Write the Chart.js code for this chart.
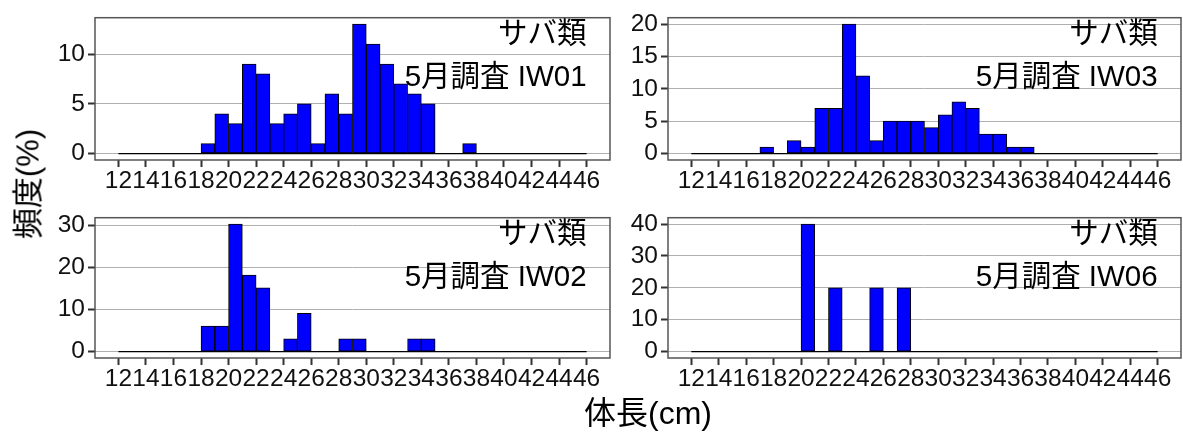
<!DOCTYPE html>
<html>
<head>
<meta charset="utf-8">
<script src="https://cdn.jsdelivr.net/npm/chart.js@4.4.1/dist/chart.umd.min.js"></script>
<style>
body { margin: 0; background: #fff; }
#wrap { position: relative; width: 1183px; height: 432px; font-family: "Liberation Sans", Arial, "Noto Sans CJK JP", sans-serif; }
canvas { position: absolute; }
.ttl { position: absolute; font-size: 31px; color: #000; white-space: nowrap; line-height: 1; }
#ytitle { left: 28px; top: 184px; transform: translate(-50%, -50%) rotate(-90deg); }
#xtitle { left: 648px; top: 413px; transform: translate(-50%, -50%); font-size: 32px; }
</style>
</head>
<body>
<div id="wrap">
  <canvas id="c1" width="612" height="200" style="left:0px;top:0px"></canvas>
  <canvas id="c2" width="571" height="200" style="left:612px;top:0px"></canvas>
  <canvas id="c3" width="612" height="200" style="left:0px;top:200px"></canvas>
  <canvas id="c4" width="571" height="200" style="left:612px;top:200px"></canvas>
  <div class="ttl" id="ytitle">頻度(%)</div>
  <div class="ttl" id="xtitle">体長(cm)</div>
</div>
<script>
// bin start (cm), each bin 1 cm wide
const bins = [12,13,14,15,16,17,18,19,20,21,22,23,24,25,26,27,28,29,30,31,32,33,34,35,36,37,38,39,40,41,42,43,44,45];
const xTicks = [12,14,16,18,20,22,24,26,28,30,32,34,36,38,40,42,44,46];

//               12 13 14 15 16 17 18 19 20 21 22 23 24 25 26 27 28 29 30 31 32 33 34 35 36 37 38 39 40 41 42 43 44 45
const iw01 =    [0, 0, 0, 0, 0, 0, 1, 4, 3, 9, 8, 3, 4, 5, 1, 6, 4, 13,11,9, 7, 6, 5, 0, 0, 1, 0, 0, 0, 0, 0, 0, 0, 0];
const iw03 =    [0, 0, 0, 0, 0, 1, 0, 2, 1, 7, 7, 20,12,2, 5, 5, 5, 4, 6, 8, 7, 3, 3, 1, 1, 0, 0, 0, 0, 0, 0, 0, 0, 0];
const iw02 =    [0, 0, 0, 0, 0, 0, 6.06, 6.06, 30.3, 18.18, 15.15, 0, 3.03, 9.09, 0, 0, 3.03, 3.03, 0, 0, 0, 3.03, 3.03, 0, 0, 0, 0, 0, 0, 0, 0, 0, 0, 0];
const iw06 =    [0, 0, 0, 0, 0, 0, 0, 0, 40,0, 20,0, 0, 20,0, 20,0, 0, 0, 0, 0, 0, 0, 0, 0, 0, 0, 0, 0, 0, 0, 0, 0, 0];

const species = "サバ類";
const stations = ["5月調査 IW01", "5月調査 IW03", "5月調査 IW02", "5月調査 IW06"];
const yTicks1 = [0, 5, 10];
const yTicks3 = [0, 5, 10, 15, 20];
const yTicks2 = [0, 10, 20, 30];
const yTicks6 = [0, 10, 20, 30, 40];

const FONT = '"Liberation Sans", Arial, "Noto Sans CJK JP", sans-serif';

const panelText = {
    id: "panelText",
    afterDatasetsDraw(chart, args, opts) {
        const ctx = chart.ctx;
        const a = chart.chartArea;
        const x = chart.scales.x.getPixelForValue(46);
        ctx.save();
        ctx.font = "29.5px " + FONT;
        ctx.fillStyle = "#000";
        ctx.textAlign = "right";
        ctx.textBaseline = "middle";
        ctx.fillText(opts.species, x, a.top + 17);
        ctx.fillText(opts.station, x, a.top + 60);
        ctx.restore();
    },
    afterDraw(chart) {
        const ctx = chart.ctx;
        const a = chart.chartArea;
        ctx.save();
        ctx.strokeStyle = "#555";
        ctx.lineWidth = 1.5;
        ctx.strokeRect(a.left, a.top, a.right - a.left, a.bottom - a.top);
        ctx.restore();
    }
};

function makePanel(id, values, yTicks, yMin, yMax, yAxisW, padTop, xAxisH, station) {
    const ctx = document.getElementById(id).getContext("2d");
    return new Chart(ctx, {
        type: "bar",
        data: {
            datasets: [{
                data: bins.map((b, i) => ({ x: b + 0.5, y: values[i] })),
                backgroundColor: "#0000FF",
                borderColor: "#000",
                borderWidth: 1,
                borderSkipped: false,
                barPercentage: 1,
                categoryPercentage: 1
            }, {
                type: "line",
                data: [{ x: bins[0], y: 0 }, { x: bins[bins.length - 1] + 1, y: 0 }],
                borderColor: "#000",
                borderWidth: 1.2,
                pointRadius: 0
            }]
        },
        options: {
            responsive: false,
            animation: false,
            layout: { padding: { top: padTop, right: 2, left: 0, bottom: 0 } },
            plugins: {
                legend: { display: false },
                tooltip: { enabled: false },
                panelText: { species: species, station: station }
            },
            scales: {
                x: {
                    type: "linear",
                    min: 10.3,
                    max: 47.7,
                    offset: false,
                    afterBuildTicks: s => { s.ticks = xTicks.map(v => ({ value: v })); },
                    afterFit: s => { s.height = xAxisH; },
                    border: { display: false },
                    grid: { display: true, drawOnChartArea: false, drawTicks: true, offset: false, tickLength: 7, tickColor: "#333", tickWidth: 2 },
                    ticks: { autoSkip: false, maxRotation: 0, minRotation: 0, padding: 0, color: "#111", font: { size: 24.5, family: FONT } }
                },
                y: {
                    min: yMin,
                    max: yMax,
                    afterBuildTicks: s => { s.ticks = yTicks.map(v => ({ value: v })); },
                    afterFit: s => { s.width = yAxisW; },
                    border: { display: false },
                    grid: { color: "#b0b0b0", lineWidth: 1, tickLength: 7, tickColor: "#333", tickWidth: 2 },
                    ticks: { padding: 3, color: "#111", font: { size: 24.5, family: FONT } }
                }
            }
        },
        plugins: [panelText]
    });
}

makePanel("c1", iw01, yTicks1, -0.65, 13.65, 95, 15, 40, stations[0]);
makePanel("c2", iw03, yTicks3, -1, 21, 56, 15, 40, stations[1]);
makePanel("c3", iw02, yTicks2, -1.515, 31.815, 95, 14, 42, stations[2]);
makePanel("c4", iw06, yTicks6, -2, 42, 56, 14, 42, stations[3]);
</script>
</body>
</html>
